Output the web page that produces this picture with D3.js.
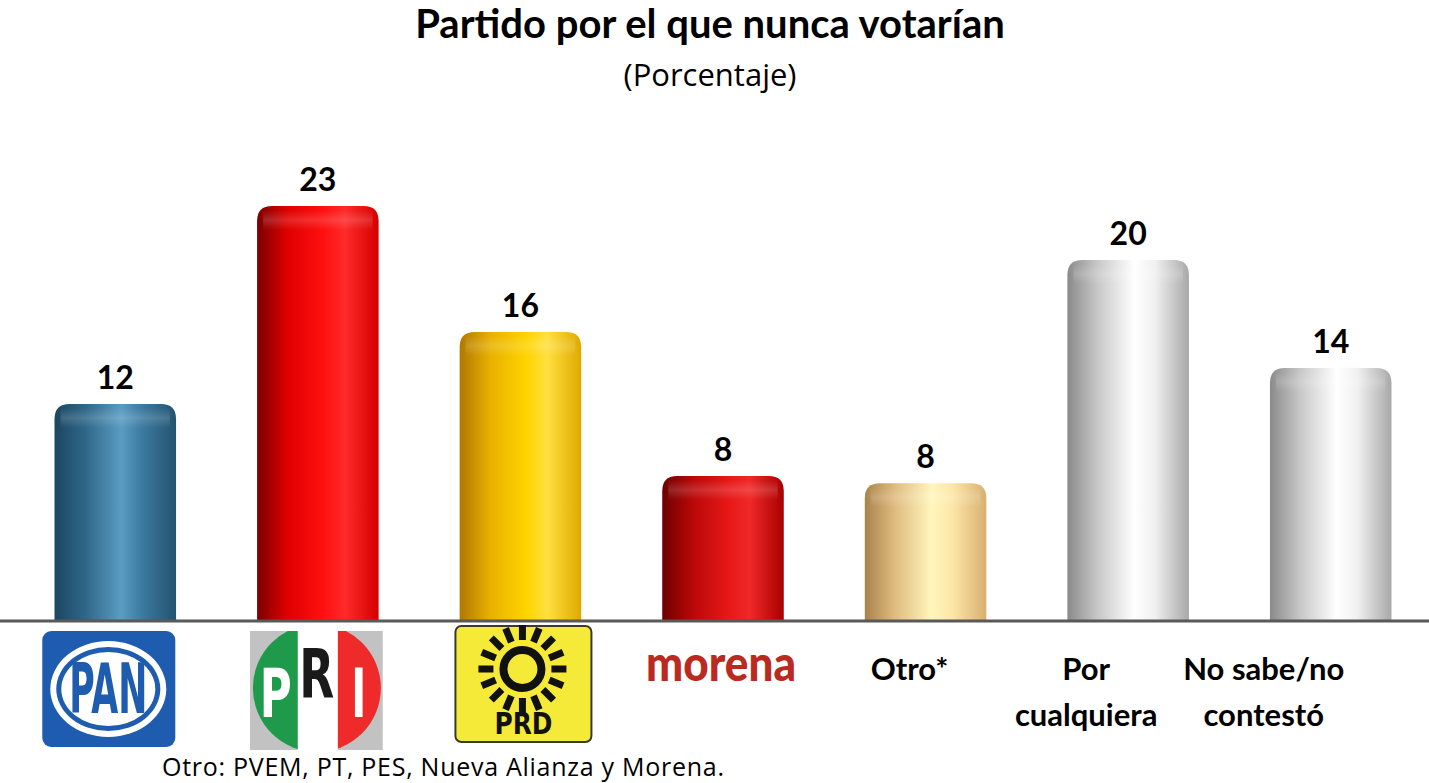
<!DOCTYPE html>
<html>
<head>
<meta charset="utf-8">
<script src="https://cdn.jsdelivr.net/npm/d3@7"></script>
<style>
  body { margin: 0; background: #fff; }
  svg { display: block; font-family: Lato, "Open Sans", sans-serif; }
</style>
</head>
<body>
<div id="graph"></div>
<script>
var width = 1429;
var height = 783;

// data
var categories = ["PAN", "PRI", "PRD", "morena", "Otro*", "Por cualquiera", "No sabe/no contestó"];
var values = [12, 23, 16, 8, 7.6, 20, 14];
var tickLines = [[], [], [], [], ["Otro*"], ["Por", "cualquiera"], ["No sabe/no", "contestó"]];
var tickShift = [0, 0, 0, 0, -16, -42, -67];

// cylinder look: left edge, light part, right edge
var fills = [
  ["#1c4560", "#2f6688", "#5a9cc2", "#3c7aa0", "#23536f"],
  ["#7a0000", "#e00000", "#ff1010", "#ff2a2a", "#d40000"],
  ["#b07800", "#e8b000", "#ffd400", "#ffe040", "#e0a800"],
  ["#6e0000", "#b80808", "#e81818", "#f02828", "#a80000"],
  ["#a8844c", "#e0bc80", "#fff6bc", "#fde6a8", "#d8b070"],
  ["#8a8a8a", "#c8c8c8", "#ffffff", "#f0f0f0", "#a8a8a8"],
  ["#8a8a8a", "#c8c8c8", "#ffffff", "#f0f0f0", "#a8a8a8"]
];

var svg = d3.select('#graph')
  .append('svg')
  .attr('width', width)
  .attr('height', height);

var defs = svg.append('defs');

fills.forEach(function(c, i){
  var g = defs.append('linearGradient')
    .attr('id', 'grad' + i)
    .attr('x1', 0).attr('x2', 1).attr('y1', 0).attr('y2', 0);
  [0, 0.25, 0.55, 0.72, 1].forEach(function(o, j){
    g.append('stop').attr('offset', o).attr('stop-color', c[j]);
  });
});

// soft highlight on the rounded cap
var cap = defs.append('linearGradient')
  .attr('id', 'cap')
  .attr('x1', 0).attr('x2', 0).attr('y1', 0).attr('y2', 1);
cap.append('stop').attr('offset', 0).attr('stop-color', '#fff').attr('stop-opacity', 0);
cap.append('stop').attr('offset', 0.5).attr('stop-color', '#fff').attr('stop-opacity', 0.15);
cap.append('stop').attr('offset', 1).attr('stop-color', '#fff').attr('stop-opacity', 0);

var x = d3.scaleBand()
  .domain(categories)
  .range([14, 1432])
  .paddingInner(0.4)
  .paddingOuter(0.2);

var y = d3.scaleLinear()
  .domain([0, 25])
  .range([620, 170]);

// title
svg.append('text')
  .attr('x', 710).attr('y', 38)
  .attr('text-anchor', 'middle')
  .style('font-size', '40px').style('font-weight', 'bold')
  .text('Partido por el que nunca votarían');

svg.append('text')
  .attr('x', 710).attr('y', 86)
  .attr('text-anchor', 'middle')
  .style('font-family', '"Open Sans", sans-serif')
  .style('font-size', '31px')
  .text('(Porcentaje)');

function barPath(x0, w, top, bottom, r){
  return "M" + x0 + "," + bottom +
    "V" + (top + r) +
    "Q" + x0 + "," + top + " " + (x0 + r) + "," + top +
    "H" + (x0 + w - r) +
    "Q" + (x0 + w) + "," + top + " " + (x0 + w) + "," + (top + r) +
    "V" + bottom + "Z";
}

var bar = svg.selectAll('g.bar')
  .data(values)
  .enter()
  .append('g')
  .attr('class', 'bar');

bar.append('path')
  .attr('d', function(d, i){
    return barPath(x(categories[i]), x.bandwidth(), y(d), y(0), 15);
  })
  .style('fill', function(d, i){ return 'url(#grad' + i + ')'; });

bar.append('rect')
  .attr('x', function(d, i){ return x(categories[i]) + 6; })
  .attr('y', function(d){ return y(d) + 4; })
  .attr('width', x.bandwidth() - 12)
  .attr('height', 20)
  .style('fill', 'url(#cap)');

bar.append('text')
  .attr('x', function(d, i){ return x(categories[i]) + x.bandwidth() / 2; })
  .attr('y', function(d){ return y(d) - 15; })
  .attr('text-anchor', 'middle')
  .style('font-size', '32px').style('font-weight', 'bold')
  .text(function(d){ return Math.round(d); });

// baseline
svg.append('line')
  .attr('x1', 0).attr('x2', width)
  .attr('y1', y(0) + 1).attr('y2', y(0) + 1)
  .style('stroke', '#595959').style('stroke-width', 3);

// text category labels
tickLines.forEach(function(lines, i){
  var cx = x(categories[i]) + x.bandwidth() / 2 + tickShift[i];
  lines.forEach(function(t, k){
    svg.append('text')
      .attr('x', cx).attr('y', 680 + k * 46)
      .attr('text-anchor', 'middle')
      .style('font-size', '31px').style('font-weight', 'bold')
      .text(t);
  });
});

// logos
function center(i){ return x(categories[i]) + x.bandwidth() / 2; }

// PAN
var pan = svg.append('g').attr('transform', 'translate(' + (center(0) - 7) + ',689)');
pan.append('rect').attr('x', -66).attr('y', -58).attr('width', 133).attr('height', 116)
  .attr('rx', 9).style('fill', '#1d5cae');
pan.append('ellipse').attr('rx', 58).attr('ry', 48).style('fill', '#fff');
pan.append('ellipse').attr('rx', 52).attr('ry', 42).style('fill', '#1d5cae');
pan.append('ellipse').attr('rx', 47).attr('ry', 37).style('fill', '#fff');
pan.append('text').attr('x', 0).attr('y', 24).attr('text-anchor', 'middle')
  .attr('textLength', 78).attr('lengthAdjust', 'spacingAndGlyphs')
  .style('font-family', '"DejaVu Sans Condensed", "DejaVu Sans", sans-serif')
  .style('font-size', '70px').style('font-weight', 'bold').style('fill', '#1d5cae')
  .text('PAN');

// PRI
var pri = svg.append('g').attr('transform', 'translate(' + (center(1) - 1) + ',690)');
defs.append('clipPath').attr('id', 'priclip')
  .append('rect').attr('x', -67).attr('y', -59).attr('width', 133).attr('height', 119);
var priIn = pri.append('g').attr('clip-path', 'url(#priclip)');
priIn.append('rect').attr('x', -67).attr('y', -59).attr('width', 133).attr('height', 119).style('fill', '#c2c2c2');
priIn.append('rect').attr('x', -19).attr('y', -59).attr('width', 40).attr('height', 119).style('fill', '#fff');
defs.append('clipPath').attr('id', 'pricircle')
  .append('circle').attr('r', 64).attr('cy', -2);
var priC = priIn.append('g').attr('clip-path', 'url(#pricircle)');
priC.append('rect').attr('x', -67).attr('y', -70).attr('width', 48).attr('height', 140).style('fill', '#1e9a4a');
priC.append('rect').attr('x', -19).attr('y', -70).attr('width', 40).attr('height', 140).style('fill', '#fff');
priC.append('rect').attr('x', 21).attr('y', -70).attr('width', 48).attr('height', 140).style('fill', '#ee2a2a');
[["P", -41, 27, 32, '#fff'], ["R", 0, 8, 35, '#1a1a1a'], ["I", 42, 27, 15, '#fff']].forEach(function(l){
  priIn.append('text').attr('x', l[1]).attr('y', l[2]).attr('text-anchor', 'middle')
    .attr('textLength', l[3]).attr('lengthAdjust', 'spacingAndGlyphs')
    .style('font-family', '"DejaVu Sans Condensed", "DejaVu Sans", sans-serif')
    .style('font-size', '68px').style('font-weight', 'bold').style('fill', l[4])
    .text(l[0]);
});

// PRD
var prd = svg.append('g').attr('transform', 'translate(' + (center(2) + 3) + ',684)');
prd.append('rect').attr('x', -68).attr('y', -58).attr('width', 136).attr('height', 116)
  .attr('rx', 6).style('fill', '#f5ea38').style('stroke', '#3a3a2a').style('stroke-width', 2);
var sun = prd.append('g').attr('transform', 'translate(-1,-15)');
sun.append('circle').attr('r', 19).style('fill', 'none').style('stroke', '#111').style('stroke-width', 8);
d3.range(16).forEach(function(k){
  var a = k * Math.PI / 8;
  sun.append('line')
    .attr('x1', Math.cos(a) * 29).attr('y1', Math.sin(a) * 29)
    .attr('x2', Math.cos(a) * 44).attr('y2', Math.sin(a) * 44)
    .style('stroke', '#111').style('stroke-width', 7);
});
prd.append('text').attr('x', 0).attr('y', 50).attr('text-anchor', 'middle')
  .attr('textLength', 58).attr('lengthAdjust', 'spacingAndGlyphs')
  .style('font-family', '"DejaVu Sans", sans-serif')
  .style('font-size', '31px').style('font-weight', 'bold').style('fill', '#111')
  .text('PRD');

// morena
svg.append('text')
  .attr('x', center(3) - 2).attr('y', 681)
  .attr('text-anchor', 'middle')
  .attr('textLength', 150).attr('lengthAdjust', 'spacingAndGlyphs')
  .style('font-size', '50px').style('font-weight', 900).style('fill', '#bb2a1f')
  .text('morena');

// footnote
svg.append('text')
  .attr('x', 162).attr('y', 776)
  .attr('textLength', 562)
  .style('font-family', '"Open Sans", sans-serif')
  .style('font-size', '25px')
  .text('Otro: PVEM, PT, PES, Nueva Alianza y Morena.');
</script>
</body>
</html>
